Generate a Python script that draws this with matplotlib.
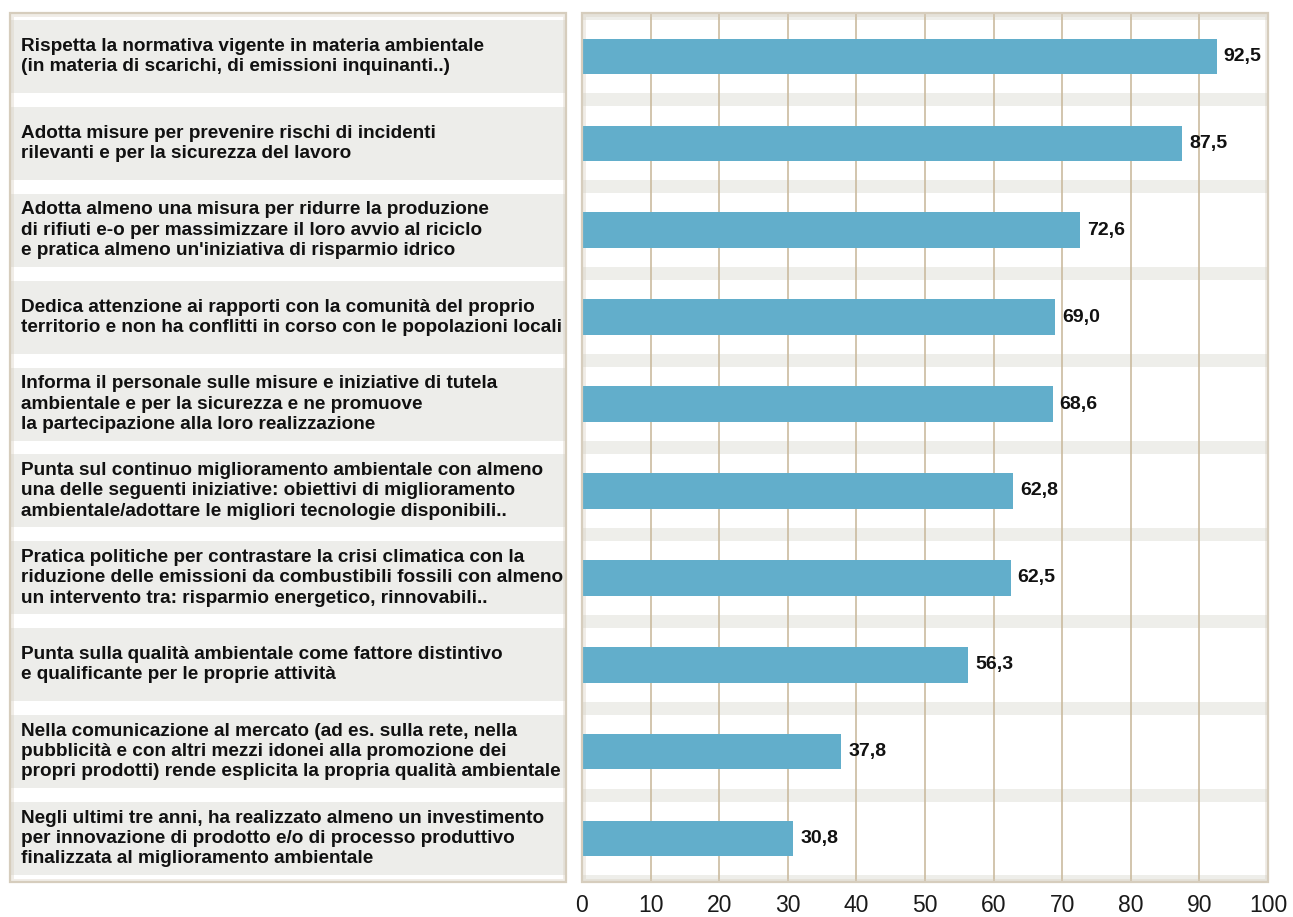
import matplotlib.pyplot as plt
from matplotlib.patches import Rectangle

labels = [
    "Rispetta la normativa vigente in materia ambientale\n(in materia di scarichi, di emissioni inquinanti..)",
    "Adotta misure per prevenire rischi di incidenti\nrilevanti e per la sicurezza del lavoro",
    "Adotta almeno una misura per ridurre la produzione\ndi rifiuti e-o per massimizzare il loro avvio al riciclo\ne pratica almeno un'iniziativa di risparmio idrico",
    "Dedica attenzione ai rapporti con la comunità del proprio\nterritorio e non ha conflitti in corso con le popolazioni locali",
    "Informa il personale sulle misure e iniziative di tutela\nambientale e per la sicurezza e ne promuove\nla partecipazione alla loro realizzazione",
    "Punta sul continuo miglioramento ambientale con almeno\nuna delle seguenti iniziative: obiettivi di miglioramento\nambientale/adottare le migliori tecnologie disponibili..",
    "Pratica politiche per contrastare la crisi climatica con la\nriduzione delle emissioni da combustibili fossili con almeno\nun intervento tra: risparmio energetico, rinnovabili..",
    "Punta sulla qualità ambientale come fattore distintivo\ne qualificante per le proprie attività",
    "Nella comunicazione al mercato (ad es. sulla rete, nella\npubblicità e con altri mezzi idonei alla promozione dei\npropri prodotti) rende esplicita la propria qualità ambientale",
    "Negli ultimi tre anni, ha realizzato almeno un investimento\nper innovazione di prodotto e/o di processo produttivo\nfinalizzata al miglioramento ambientale",
]
values = [92.5, 87.5, 72.6, 69.0, 68.6, 62.8, 62.5, 56.3, 37.8, 30.8]
x_ticks = [0, 10, 20, 30, 40, 50, 60, 70, 80, 90, 100]

W, H = 1293, 917
bar_color = '#62aecb'
grid_color = '#cbbb9f'
row_gray = '#ededea'
stripe_gray = '#eeeeea'
frame_color = '#d6cdbd'

plt.rcParams['font.family'] = ['Liberation Sans', 'DejaVu Sans']

fig = plt.figure(figsize=(W / 100, H / 100), dpi=100)
fig.patch.set_facecolor('white')

n = len(values)
bottom = 1 - 882 / H
height = 869 / H

# left panel with the labels
ax_l = fig.add_axes([10 / W, bottom, 556 / W, height])
ax_l.set_xlim(0, 1)
ax_l.set_ylim(n, 0)
ax_l.axis('off')
gap = 0.08
for i, lab in enumerate(labels):
    ax_l.add_patch(Rectangle((0, i + gap), 1, 1 - 2 * gap, facecolor=row_gray,
                             edgecolor='none', zorder=1))
    ax_l.text(11 / 556, i + 0.5, lab, ha='left', va='center', fontsize=13.7,
              fontweight='bold', color='#111111', linespacing=1.25, zorder=4)

# right panel with the bars
ax = fig.add_axes([582 / W, bottom, 686 / W, height])
ax.set_xlim(0, 100)
ax.set_ylim(n, 0)
for i in range(n + 1):
    ax.axhspan(i - 0.075, i + 0.075, color=stripe_gray, lw=0, zorder=0)
for t in x_ticks[1:-1]:
    ax.axvline(t, color=grid_color, lw=1.2, zorder=1)

ys = [i + 0.5 for i in range(n)]
ax.barh(ys, values, height=0.41, color=bar_color, zorder=3)
for y, v in zip(ys, values):
    ax.annotate(f"{v:.1f}".replace('.', ','), (v, y), xytext=(5, 0),
                textcoords='offset points', ha='left', va='center',
                fontsize=14, fontweight='bold', color='#111111')

ax.set_xticks(x_ticks)
ax.set_xticklabels([str(t) for t in x_ticks])
ax.set_yticks([])
ax.tick_params(axis='x', length=0, pad=9, labelsize=16.5, labelcolor='#1a1a1a')
for s in ax.spines.values():
    s.set_visible(False)

# soft framed borders
for a in (ax_l, ax):
    a.add_patch(Rectangle((0, 0), 1, 1, transform=a.transAxes, fill=False,
                          edgecolor=frame_color, lw=5, alpha=0.35, zorder=2))
    a.add_patch(Rectangle((0, 0), 1, 1, transform=a.transAxes, fill=False,
                          edgecolor=frame_color, lw=1.6, clip_on=False, zorder=6))

plt.savefig('out.png', dpi=100)
